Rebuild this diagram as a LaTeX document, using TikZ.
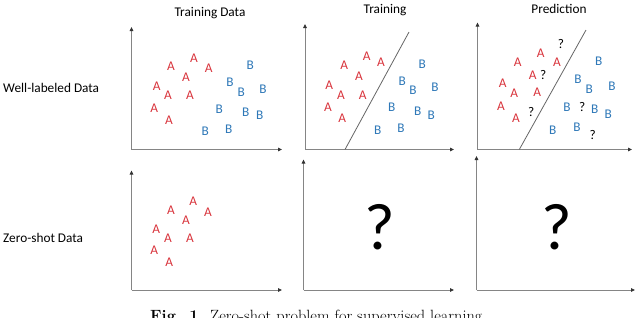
\documentclass[tikz,border=0pt]{standalone}
\usepackage{fontspec}
\newfontfamily\calib{Carlito}
\usetikzlibrary{arrows.meta}
\definecolor{clsA}{HTML}{D9343C}
\definecolor{clsB}{HTML}{2E78B8}
\definecolor{axgray}{HTML}{858585}
\tikzset{
  ax/.style={draw=axgray, line width=0.9pt, -{Triangle[length=4pt,width=3.6pt,color=black!80]}},
  sep/.style={draw=black!60, line width=0.8pt},
  lbl/.style={font=\calib\fontsize{13.3}{14}\selectfont, inner sep=0pt, text=black},
  la/.style={font=\calib\fontsize{13.3}{14}\selectfont, inner sep=0pt, text=clsA},
  lb/.style={font=\calib\fontsize{13.3}{14}\selectfont, inner sep=0pt, text=clsB},
  lq/.style={font=\calib\fontsize{13.3}{14}\selectfont, inner sep=0pt, text=black},
  bigq/.style={font=\calib\fontsize{66}{66}\selectfont, inner sep=0pt, text=black}
}
\begin{document}
\begin{tikzpicture}[x=1pt,y=-1pt]
\useasboundingbox[fill=white] (0,0) rectangle (640,317);
% headers
\node[lbl] (h1) at (210,13.5) {Training Data};
\node[lbl] (h2) at (385,10.5) {Training};
\node[lbl] (h3) at (559,9) {Prediction};
\node[lbl, anchor=west] (r1) at (3,88) {Well-labeled Data};
\node[lbl, anchor=west] (r2) at (3,238) {Zero-shot Data};
% axes top row
\coordinate (o1) at (131.5,149.5); \coordinate (y1) at (131.5,27); \coordinate (x1) at (282,149.5);
\coordinate (o2) at (305,149.5); \coordinate (y2) at (305,24); \coordinate (x2) at (454,149.5);
\coordinate (o3) at (477.5,149.5); \coordinate (y3) at (477.5,22.5); \coordinate (x3) at (632,149.5);
\draw[ax] (o1) -- (y1); \draw[ax] (o1) -- (x1);
\draw[ax] (o2) -- (y2); \draw[ax] (o2) -- (x2);
\draw[ax] (o3) -- (y3); \draw[ax] (o3) -- (x3);
% axes bottom row
\coordinate (o4) at (131.5,290); \coordinate (y4) at (131.5,170.5); \coordinate (x4) at (282,290);
\coordinate (o5) at (303.5,290); \coordinate (y5) at (303.5,159.5); \coordinate (x5) at (454,290);
\coordinate (o6) at (476.5,290); \coordinate (y6) at (476.5,156); \coordinate (x6) at (635,290);
\draw[ax] (o4) -- (y4); \draw[ax] (o4) -- (x4);
\draw[ax] (o5) -- (y5); \draw[ax] (o5) -- (x5);
\draw[ax] (o6) -- (y6); \draw[ax] (o6) -- (x6);
% separating lines
\coordinate (s2a) at (345,149.5); \coordinate (s2b) at (409,32);
\coordinate (s3a) at (519.3,149.5); \coordinate (s3b) at (586,30);
\draw[sep] (s2a) -- (s2b);
\draw[sep] (s3a) -- (s3b);
% panel 1
\foreach \p [count=\i] in {(171,66.7),(194,58.3),(208.7,68.3),(186,77.7),(156.7,86),(168,95.7),(190,95.7),(154.3,108.3),(169,120)}
  \node[la] (pa1-\i) at \p {A};
\foreach \p [count=\i] in {(250.3,65),(230,82.7),(241.3,92.3),(263,89),(219.3,109),(245.7,112),(259.7,115.7),(205.3,131.7),(228.7,129.3)}
  \node[lb] (pb1-\i) at \p {B};
% panel 2
\foreach \p [count=\i] in {(344.3,65.7),(366.7,56.7),(381,62.3),(359,76.7),(329.3,85),(341,95),(362.7,95),(328,107.7),(342.3,118.3)}
  \node[la] (pa2-\i) at \p {A};
\foreach \p [count=\i] in {(422.3,64),(402.3,81),(413,90),(435,87.7),(391.7,107.7),(417.7,111),(431.3,115),(377.7,130.7),(401,128.3)}
  \node[lb] (pb2-\i) at \p {B};
% panel 3
\foreach \p [count=\i] in {(517.7,62.7),(540.7,53.3),(557,62.3),(532.7,75),(502.7,83.3),(514.3,93.3),(537.3,92.7),(501,106.7),(516,118.3)}
  \node[la] (pa3-\i) at \p {A};
\foreach \p [count=\i] in {(598.7,61),(578,79.3),(589.3,89.3),(612,86.7),(567,107.3),(594.7,109.3),(608.3,114),(552.7,130),(577,127.7)}
  \node[lb] (pb3-\i) at \p {B};
\foreach \p [count=\i] in {(561,44.3),(543.3,75),(531.3,111.7),(582.3,106.7),(592.7,135)}
  \node[lq] (pq3-\i) at \p {?};
% panel 4
\foreach \p [count=\i] in {(171,210),(193.3,201),(208,212.7),(186,220.7),(156.3,229),(168,238.3),(190,238.3),(154.3,250),(169.3,262.3)}
  \node[la] (pa4-\i) at \p {A};
% big question marks
\node[bigq] (q5) at (380,227) {?};
\node[bigq] (q6) at (556.7,227) {?};
% caption
\node[anchor=base west, inner sep=0pt, font=\fontsize{16.3}{17}\selectfont] (cap) at (150,321.8) {\textbf{Fig. 1.} Zero-shot problem for supervised learning};
\end{tikzpicture}
\end{document}
